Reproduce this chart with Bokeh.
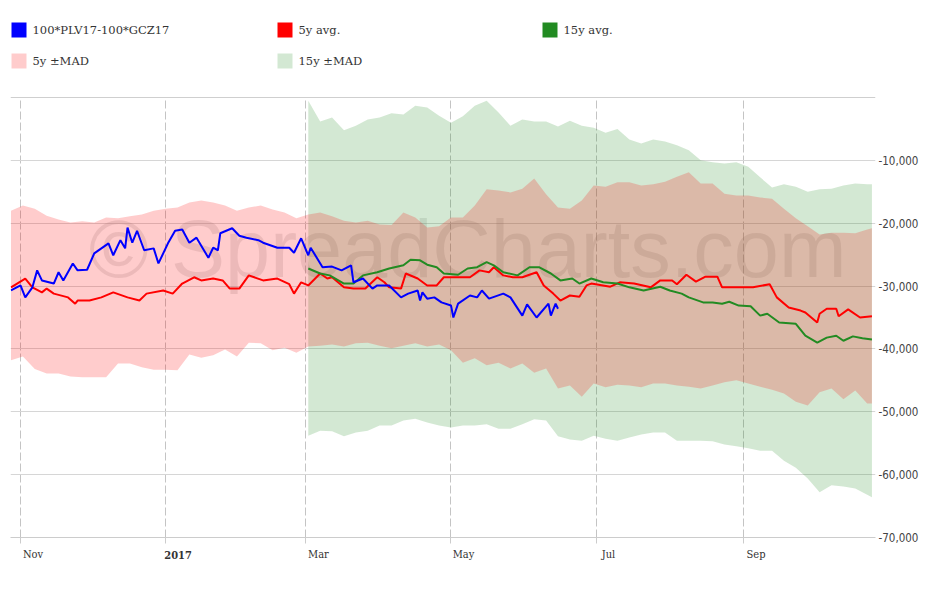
import pandas as pd
from datetime import datetime, timedelta
from bokeh.plotting import figure
from bokeh.layouts import column
from bokeh.models import (Range1d, FixedTicker, DatetimeTickFormatter, DatetimeAxis,
                          NumeralTickFormatter, Span, Label)
from bokeh.core.properties import value
from bokeh.embed import file_html
from bokeh.resources import INLINE

# ---------------- data ----------------
base = pd.Timestamp("2016-10-28")

# band statistics on a 5-day grid (plus the final day)
band_dates = pd.date_range("2016-10-28", periods=73, freq="5D").append(
    pd.DatetimeIndex(["2017-10-25"]))
start_15y = 25          # 15y statistics start at this index (early March)

mad5_hi = [-18000, -17200, -17700, -18800, -19400, -19900, -19700, -19900, -19100, -19200,
           -18900, -18600, -18000, -17700, -17500, -16700, -16400, -16700, -17200, -18000,
           -17500, -17200, -17800, -18300, -19200, -18600, -18300, -18900, -19600, -19900,
           -19600, -20200, -20300, -18300, -19100, -20700, -20500, -19100, -19100, -17200,
           -14600, -14800, -15100, -14500, -12900, -15400, -17500, -17700, -16400, -14000,
           -14200, -13500, -13500, -14000, -13800, -13400, -12600, -11900, -13700, -13700,
           -15300, -15600, -15600, -15900, -16100, -17700, -19200, -20500, -21800, -21500,
           -21500, -21600, -21000, -20800]

mad5_lo = [-41800, -41200, -43200, -43900, -43900, -44400, -44500, -44500, -44500, -42300,
           -42300, -42900, -43300, -43300, -43400, -40900, -41400, -41000, -40100, -41200,
           -39000, -39100, -40200, -39800, -40600, -39600, -39500, -39300, -39600, -39100,
           -39000, -39500, -39900, -39500, -39100, -39600, -39300, -40200, -42200, -41500,
           -42600, -42200, -43100, -42300, -43800, -43100, -46300, -45800, -47600, -45500,
           -46100, -45700, -45800, -46100, -45500, -45500, -45800, -46000, -46300, -45800,
           -45300, -45000, -45500, -46000, -46500, -47100, -48400, -49000, -46900, -46300,
           -48000, -46600, -48700, -48700]

mad15_hi = [-500, -3800, -3200, -5200, -4500, -3500, -3200, -2500, -2700, -1300,
            -1600, -2900, -4000, -3000, -1300, -500, -2400, -4500, -3500, -3800,
            -3800, -4600, -3700, -4500, -4800, -5600, -5000, -6700, -7300, -6700,
            -7000, -7600, -8400, -10000, -10300, -10500, -10300, -11000, -12700, -14300,
            -13800, -14200, -15000, -14600, -14500, -14000, -13700, -13800, -13800]

mad15_lo = [-53800, -53000, -53100, -53900, -53300, -53000, -52200, -52200, -51400, -51100,
            -51700, -52200, -52500, -52200, -52200, -52000, -52700, -52700, -52000, -51200,
            -51400, -53900, -54400, -54600, -53800, -54300, -54600, -54100, -53600, -53300,
            -53300, -54600, -54600, -54600, -54700, -55200, -55500, -55800, -56200, -56200,
            -57800, -58900, -60600, -62800, -61700, -61900, -62200, -63200, -63600]

# line series: day offsets from 2016-10-28 and values
spread_day = [0, 4, 6, 9, 11, 13, 18, 20, 22, 26, 28, 32, 35, 41, 43, 46, 48, 49, 51, 53,
              56, 60, 62, 66, 69, 72, 75, 78, 83, 85, 87, 88, 93, 96, 99, 104, 106, 112, 117, 119,
              122, 125, 126, 131, 135, 139, 143, 144, 148, 152, 154, 159, 164, 167, 171, 172, 173, 175, 178, 181,
              185, 186, 188, 193, 196, 198, 201, 207, 210, 215, 217, 221, 226, 227, 229, 230]
spread = [-30700, -29900, -31800, -30200, -27500, -29100, -29600, -27800, -29100, -26400,
          -27500, -27400, -24800, -23200, -25100, -22700, -24000, -20700, -23100, -21200,
          -24300, -24000, -26400, -23200, -21200, -21000, -23100, -22300, -25500, -23900,
          -24300, -21600, -20800, -22000, -22300, -22700, -23100, -23900, -23900, -24700,
          -22400, -25100, -23900, -27000, -26900, -27500, -26700, -29400, -28800, -30400,
          -29900, -29900, -31800, -31200, -30700, -32300, -31000, -32000, -31800, -32600,
          -33100, -35000, -32800, -31500, -31800, -30700, -32000, -31200, -31800, -34700,
          -32900, -35000, -32800, -34700, -32800, -33600]

avg5_day = [0, 6, 9, 13, 15, 18, 24, 27, 28, 33, 38, 43, 49, 54, 57, 64, 68, 72, 77, 80,
            85, 89, 92, 96, 100, 106, 112, 117, 119, 122, 125, 130, 133, 135, 140, 144, 149, 154, 157, 159,
            164, 166, 171, 175, 179, 182, 188, 193, 197, 201, 203, 207, 211, 215, 221, 224, 228, 231, 235, 239,
            242, 244, 252, 256, 262, 269, 273, 278, 280, 284, 288, 292, 297, 299, 306, 312, 319, 322, 327, 332,
            334, 339, 340, 343, 347, 348, 352, 357, 362]
avg5 = [-30200, -28800, -30200, -31000, -30400, -31200, -31800, -32800, -32300, -32300,
        -31800, -31000, -31800, -32300, -31200, -30700, -31200, -29600, -28600, -29100,
        -28800, -29100, -30400, -30400, -28300, -29100, -28800, -29700, -31200, -29400,
        -29900, -28000, -28800, -28600, -30200, -30400, -30400, -28600, -29400, -30200,
        -30400, -28000, -28800, -29900, -29900, -28600, -28600, -28600, -27500, -27800,
        -27000, -28300, -28600, -28600, -27800, -29900, -31200, -32300, -31500, -31700,
        -29900, -29600, -30100, -29400, -29600, -30200, -29100, -29100, -29700, -28200,
        -29300, -28500, -28500, -30200, -30200, -30200, -29700, -31800, -33400, -33900,
        -34200, -35800, -34400, -33600, -33600, -34800, -33700, -35000, -34800]

avg15_day = [125, 130, 134, 140, 144, 148, 154, 159, 165, 168, 172, 175, 179, 182, 188, 192, 196, 200, 203, 207,
             213, 218, 222, 227, 231, 236, 239, 244, 249, 255, 260, 266, 273, 277, 282, 285, 291, 295, 299, 302,
             306, 311, 315, 318, 323, 330, 334, 339, 343, 347, 350, 354, 358, 362]
avg15 = [-27200, -28000, -28300, -29600, -29600, -28300, -27800, -27200, -26700, -25800,
         -25900, -26600, -27000, -28000, -28200, -27200, -27000, -26200, -26700, -27800,
         -28300, -27000, -27000, -28000, -29100, -28800, -29600, -28800, -29400, -29600,
         -30200, -30700, -30100, -30700, -31200, -31800, -32600, -32600, -32800, -32500,
         -33100, -33200, -34700, -34400, -35800, -36000, -37900, -39000, -38200, -37900,
         -38700, -38000, -38300, -38500]

y_ticks = [-70000, -60000, -50000, -40000, -30000, -20000, -10000]
x_tick_dates = ["2016-11-01", "2017-01-01", "2017-03-01", "2017-05-01", "2017-07-01", "2017-09-01"]
x_tick_labels = ["Nov", "", "Mar", "May", "Jul", "Sep"]
year_label = "2017"
year_date = "2017-01-01"

legend_labels = ["100*PLV17-100*GCZ17", "5y avg.", "15y avg.", "5y \u00b1MAD", "15y \u00b1MAD"]

BLUE = "#0000ff"
RED = "#ff0000"
GREEN = "#228b22"
BAND_ALPHA = 0.2
W = 922


def ms(d):
    return pd.Timestamp(d).value / 1e6


def to_dates(days):
    return base + pd.to_timedelta(days, unit="D")


x0 = datetime(2016, 10, 27, 19)
x1 = datetime(2017, 10, 26, 12)
label_shift = timedelta(days=5.25)   # tick labels sit just right of their tick

# ---------------- main figure ----------------
p = figure(width=W, height=471, x_axis_type="datetime",
           x_range=Range1d(x0, x1), y_range=Range1d(-70000, 0),
           y_axis_location="right",
           output_backend="svg", toolbar_location=None,
           min_border_left=10, min_border_right=47, min_border_top=1, min_border_bottom=30)
p.extra_x_ranges = {"lab": Range1d(x0 - label_shift, x1 - label_shift)}
p.outline_line_color = None
p.background_fill_color = "white"

d15 = band_dates[start_15y:]
p.varea(x=d15, y1=mad15_lo, y2=mad15_hi, fill_color=GREEN, fill_alpha=BAND_ALPHA)
p.varea(x=band_dates, y1=mad5_lo, y2=mad5_hi, fill_color=RED, fill_alpha=BAND_ALPHA)

p.line(to_dates(avg5_day), avg5, line_color=RED, line_width=2)
p.line(to_dates(avg15_day), avg15, line_color=GREEN, line_width=2)
p.line(to_dates(spread_day), spread, line_color=BLUE, line_width=2)

# watermark
wm = Label(x=ms("2017-05-08"), y=-24100, text="\u00a9 SpreadCharts.com",
           text_align="center", text_baseline="middle",
           text_font="Liberation Sans", text_font_size="81px",
           text_color="#808080", text_alpha=0.18, level="underlay")
p.add_layout(wm)

# top border line
p.add_layout(Span(location=0, dimension="width", line_color="#a0a0a0", line_width=1))

# y axis (right)
p.yaxis.ticker = FixedTicker(ticks=y_ticks)
p.yaxis.formatter = NumeralTickFormatter(format="0,0")
p.yaxis.axis_line_color = None
p.yaxis.major_tick_line_color = None
p.yaxis.minor_tick_line_color = None
p.yaxis.major_tick_out = 0
p.yaxis.major_tick_in = 0
p.yaxis.major_label_standoff = 3
p.yaxis.major_label_text_font = "DejaVu Sans Condensed"
p.yaxis.major_label_text_font_size = "11.5px"
p.yaxis.major_label_text_color = "#444444"
p.ygrid.grid_line_color = "#d6d6d6"

# x axis: line, ticks and grid (labels carried by the axes below)
xt = [ms(d) for d in x_tick_dates]
xa = p.xaxis[0]
xa.ticker = FixedTicker(ticks=xt)
xa.formatter = DatetimeTickFormatter(days="%b", months="%b", years="%b")
xa.major_label_overrides = {t: "" for t in xt}
xa.major_label_text_font_size = "0px"
xa.axis_line_color = "#cccccc"
xa.major_tick_line_color = "#cccccc"
xa.minor_tick_line_color = None
xa.major_tick_out = 6
xa.major_tick_in = 0
xa.major_label_standoff = 0
p.xgrid.grid_line_color = "#c4c4c4"
p.xgrid.grid_line_dash = "8 3"

LABEL_FONT = "DejaVu Serif Condensed"

xa_m = DatetimeAxis(x_range_name="lab", ticker=FixedTicker(ticks=xt),
                    formatter=DatetimeTickFormatter(days="%b", months="%b", years="%b"),
                    major_label_overrides={t: lab for t, lab in zip(xt, x_tick_labels)})
xa_m.axis_line_color = None
xa_m.major_tick_line_color = None
xa_m.minor_tick_line_color = None
xa_m.major_tick_out = 0
xa_m.major_tick_in = 0
xa_m.major_label_standoff = 4
xa_m.major_label_text_font = LABEL_FONT
xa_m.major_label_text_font_size = "11px"
xa_m.major_label_text_color = "#333333"
p.add_layout(xa_m, "below")

yt = ms(year_date)
xa_y = DatetimeAxis(x_range_name="lab", ticker=FixedTicker(ticks=[yt]),
                    formatter=DatetimeTickFormatter(days="%Y", months="%Y", years="%Y"),
                    major_label_overrides={yt: year_label})
xa_y.axis_line_color = None
xa_y.major_tick_line_color = None
xa_y.minor_tick_line_color = None
xa_y.major_tick_out = 0
xa_y.major_tick_in = 0
xa_y.major_label_standoff = -13
xa_y.major_label_text_font = LABEL_FONT
xa_y.major_label_text_font_size = "11px"
xa_y.major_label_text_font_style = "bold"
xa_y.major_label_text_color = "#333333"
p.add_layout(xa_y, "below")

# ---------------- legend figure ----------------
lg = figure(width=W, height=96, x_range=Range1d(10, 875), y_range=Range1d(96, 0),
            output_backend="svg", toolbar_location=None,
            x_axis_location=None, y_axis_location=None,
            min_border_left=10, min_border_right=47, min_border_top=0, min_border_bottom=0)
lg.grid.visible = False
lg.outline_line_color = None

col_x = [11, 277, 542]
row_y = [22, 53]
sq = 15
pos = [(col_x[0], row_y[0]), (col_x[1], row_y[0]), (col_x[2], row_y[0]),
       (col_x[0], row_y[1]), (col_x[1], row_y[1])]
colors = [BLUE, RED, GREEN, RED, GREEN]
alphas = [1, 1, 1, BAND_ALPHA, BAND_ALPHA]
lg.rect(x=[a + sq / 2 for a, b in pos], y=[b + sq / 2 for a, b in pos],
        width=sq, height=sq, fill_color=colors, fill_alpha=alphas, line_color=None)
lg.text(x=[a + sq + 6 for a, b in pos], y=[b + sq / 2 for a, b in pos], text=legend_labels,
        text_baseline="middle", text_align="left",
        text_font=value("DejaVu Serif"), text_font_size="11.5px", text_color="#333333")

layout = column(lg, p, spacing=0)
open("out.html", "w").write(file_html(layout, INLINE))
